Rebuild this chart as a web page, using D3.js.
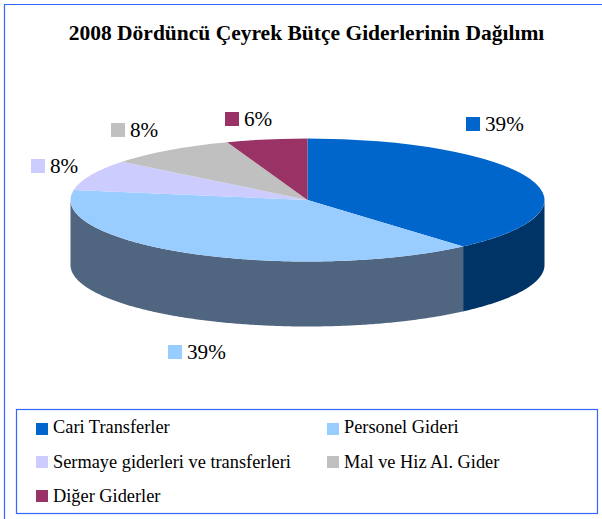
<!DOCTYPE html>
<html>
<head>
<meta charset="utf-8">
<script src="https://cdn.jsdelivr.net/npm/d3@7"></script>
<style>
  html, body { margin: 0; padding: 0; background: #fff; overflow: hidden; }
  text { font-family: "Liberation Serif", serif; fill: #000; }
</style>
</head>
<body>
<script>
var chartTitle = "2008 Dördüncü Çeyrek Bütçe Giderlerinin Dağılımı";
var categories = ["Cari Transferler", "Personel Gideri", "Sermaye giderleri ve transferleri", "Mal ve Hiz Al. Gider", "Diğer Giderler"];
// slice sizes, the printed labels are the rounded ones on the chart
var shares = [38.6, 39, 8.1, 8.8, 5.5];
var percentLabels = ["39%", "39%", "8%", "8%", "6%"];
var topColors = ["#0066cc", "#99ccff", "#ccccff", "#c0c0c0", "#993366"];
var sideColors = ["#003366", "#506680", "#666680", "#606060", "#4d1a33"];
var labelSpots = [[466, 117], [168, 345], [31, 159], [111, 123], [225, 112]];
var legendSpots = [[36, 423], [327, 423], [36, 456], [327, 456], [36, 490]];
var legendBaselines = [432.8, 432.8, 468, 468, 502];

var svgWidth = 602;
var svgHeight = 519;
var frameColor = "#3366ff";

var cx = 307.5;
var cy = 200;
var rx = 237;
var ry = 61.5;
var depth = 65;

var svg = d3.select("body").append("svg")
  .attr("width", svgWidth)
  .attr("height", svgHeight)
  .style("display", "block");

// outer frame runs off the right and bottom of the picture
svg.append("path")
  .attr("d", "M4.5," + svgHeight + "V4.5H" + svgWidth)
  .attr("fill", "none")
  .attr("stroke", frameColor)
  .attr("stroke-width", 1.2);

svg.append("text")
  .attr("x", 306.5)
  .attr("y", 40)
  .attr("text-anchor", "middle")
  .attr("font-weight", "bold")
  .attr("font-size", 21.5)
  .text(chartTitle);

var pieData = d3.pie().sort(null)(shares);

var xPos = d3.scaleLinear().domain([-1, 1]).range([cx - rx, cx + rx]);
var yPos = d3.scaleLinear().domain([-1, 1]).range([cy - ry, cy + ry]);
var sideLine = d3.line();

// side wall: only the front half of the disc shows (pi/2 to 3pi/2)
function sidePath(d) {
  var a0 = Math.max(d.startAngle, Math.PI / 2);
  var a1 = Math.min(d.endAngle, Math.PI * 1.5);
  if (a1 <= a0) return null;
  var angles = d3.range(a0, a1, 0.01).concat([a1]);
  var top = angles.map(function(a) { return [xPos(Math.sin(a)), yPos(-Math.cos(a))]; });
  var bottom = top.slice().reverse().map(function(p) { return [p[0], p[1] + depth]; });
  return sideLine(top.concat(bottom)) + "Z";
}

svg.append("g").selectAll("path")
  .data(pieData)
  .enter()
  .append("path")
  .attr("d", sidePath)
  .attr("fill", function(d, i) { return sideColors[i]; });

var arc = d3.arc().innerRadius(0).outerRadius(rx);

svg.append("g")
  .attr("transform", "translate(" + cx + "," + cy + ") scale(1," + (ry / rx) + ")")
  .selectAll("path")
  .data(pieData)
  .enter()
  .append("path")
  .attr("d", arc)
  .attr("fill", function(d, i) { return topColors[i]; });

// data labels
var labels = svg.append("g").selectAll("g")
  .data(pieData)
  .enter()
  .append("g")
  .attr("transform", function(d, i) { return "translate(" + labelSpots[i] + ")"; });

labels.append("rect")
  .attr("width", 14)
  .attr("height", 14)
  .attr("fill", function(d, i) { return topColors[i]; });

labels.append("text")
  .attr("x", 19)
  .attr("y", 14)
  .attr("font-size", 21.2)
  .text(function(d, i) { return percentLabels[i]; });

// legend
svg.append("rect")
  .attr("x", 16.5)
  .attr("y", 409.5)
  .attr("width", 581)
  .attr("height", 104)
  .attr("fill", "#fff")
  .attr("stroke", frameColor)
  .attr("stroke-width", 1.2);

var legend = svg.append("g").selectAll("g")
  .data(categories)
  .enter()
  .append("g");

legend.append("rect")
  .attr("x", function(d, i) { return legendSpots[i][0]; })
  .attr("y", function(d, i) { return legendSpots[i][1]; })
  .attr("width", 12)
  .attr("height", 12)
  .attr("fill", function(d, i) { return topColors[i]; });

legend.append("text")
  .attr("x", function(d, i) { return legendSpots[i][0] + 17; })
  .attr("y", function(d, i) { return legendBaselines[i]; })
  .attr("font-size", 18.35)
  .text(function(d) { return d; });
</script>
</body>
</html>
